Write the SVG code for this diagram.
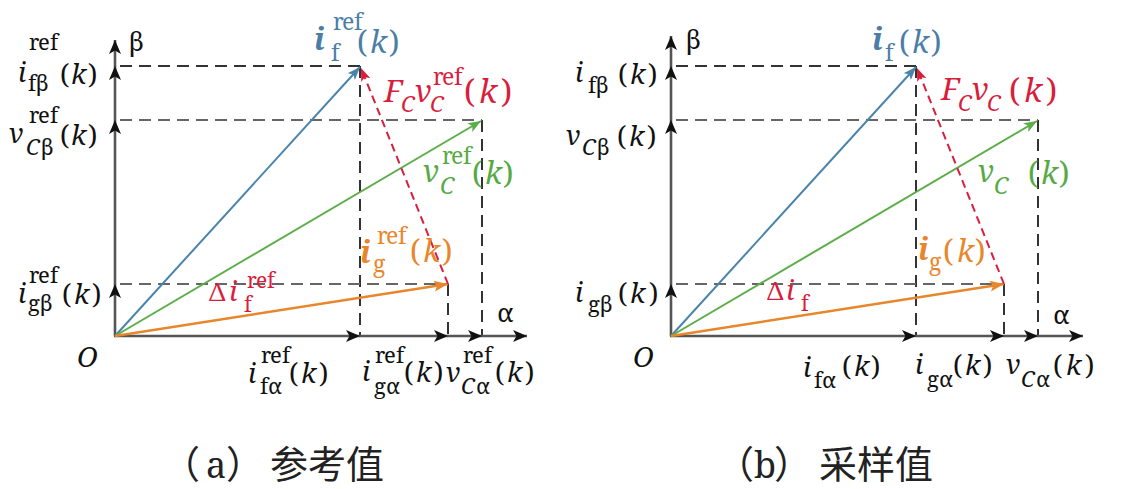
<svg xmlns="http://www.w3.org/2000/svg" width="1137" height="489" viewBox="0 0 1137 489">
<style>
.s{font-family:"Noto Serif","Noto Serif SC","Liberation Serif",serif;}
.i{font-style:italic;}
.bi{font-style:italic;font-weight:bold;}
.ax{stroke:#555;stroke-width:2.6;fill:none;}
.dk{stroke:#333;stroke-width:2;stroke-dasharray:12 7;fill:none;}
.dg{stroke:#666;stroke-width:2;stroke-dasharray:12 7;fill:none;}
.blue{stroke:#4a84ab;stroke-width:2;fill:none;}
.green{stroke:#5cae4a;stroke-width:2;fill:none;}
.orange{stroke:#e8862c;stroke-width:2.4;fill:none;}
.red{stroke:#d81e3c;stroke-width:2;stroke-dasharray:8 5;fill:none;}
.k{fill:#111;}
.cb{fill:#4a7ea6;}
.cg{fill:#55aa44;}
.co{fill:#e8862c;}
.cr{fill:#d81e3c;}
.cap{font-family:"Noto Sans CJK SC","Noto Sans CJK JP",sans-serif;font-size:38px;fill:#222;}
</style>
<defs>
<marker id="ak" viewBox="0 0 14 12" refX="14" refY="6" markerWidth="14" markerHeight="12" orient="auto" markerUnits="userSpaceOnUse"><path d="M0,0 L14,6 L0,12 L3.5,6 Z" fill="#111"/></marker>
<marker id="ab" viewBox="0 0 13 10" refX="13" refY="5" markerWidth="13" markerHeight="10" orient="auto" markerUnits="userSpaceOnUse"><path d="M0,0 L13,5 L0,10 L3,5 Z" fill="#4a84ab"/></marker>
<marker id="ag" viewBox="0 0 13 10" refX="13" refY="5" markerWidth="13" markerHeight="10" orient="auto" markerUnits="userSpaceOnUse"><path d="M0,0 L13,5 L0,10 L3,5 Z" fill="#5cae4a"/></marker>
<marker id="ao" viewBox="0 0 14 11" refX="14" refY="5.5" markerWidth="14" markerHeight="11" orient="auto" markerUnits="userSpaceOnUse"><path d="M0,0 L14,5.5 L0,11 L3,5.5 Z" fill="#e8862c"/></marker>
<marker id="ar" viewBox="0 0 13 10" refX="13" refY="5" markerWidth="13" markerHeight="10" orient="auto" markerUnits="userSpaceOnUse"><path d="M0,0 L13,5 L0,10 L3,5 Z" fill="#d81e3c"/></marker>
</defs>
<rect width="1137" height="489" fill="#fff"/>

<g id="connectors-a">
  <path class="dk" d="M120,66 H360 M360,66 V336 M448,284 V336 M482,120 V336"/>
  <path class="dg" d="M120,120 H482 M120,284 H448"/>
  <line class="ax" x1="115" y1="336" x2="115" y2="284" marker-end="url(#ak)"/>
  <line class="ax" x1="115" y1="284" x2="115" y2="120" marker-end="url(#ak)"/>
  <line class="ax" x1="115" y1="120" x2="115" y2="66" marker-end="url(#ak)"/>
  <line class="ax" x1="115" y1="66" x2="115" y2="40" marker-end="url(#ak)"/>
  <line class="ax" x1="114" y1="336" x2="360" y2="336" marker-end="url(#ak)"/>
  <line class="ax" x1="360" y1="336" x2="448" y2="336" marker-end="url(#ak)"/>
  <line class="ax" x1="448" y1="336" x2="482" y2="336" marker-end="url(#ak)"/>
  <line class="ax" x1="482" y1="336" x2="527" y2="336" marker-end="url(#ak)"/>
  <line class="blue" x1="115" y1="336" x2="360" y2="67" marker-end="url(#ab)"/>
  <line class="green" x1="115" y1="336" x2="481" y2="121" marker-end="url(#ag)"/>
  <line class="orange" x1="115" y1="336" x2="448" y2="284" marker-end="url(#ao)"/>
  <line class="red" x1="448" y1="284" x2="361" y2="68" marker-end="url(#ar)"/>
</g>

<g id="connectors-b" transform="translate(556,0)">
  <path class="dk" d="M120,66 H360 M360,66 V336 M448,284 V336 M482,120 V336"/>
  <path class="dg" d="M120,120 H482 M120,284 H448"/>
  <line class="ax" x1="115" y1="336" x2="115" y2="284" marker-end="url(#ak)"/>
  <line class="ax" x1="115" y1="284" x2="115" y2="120" marker-end="url(#ak)"/>
  <line class="ax" x1="115" y1="120" x2="115" y2="66" marker-end="url(#ak)"/>
  <line class="ax" x1="115" y1="66" x2="115" y2="36" marker-end="url(#ak)"/>
  <line class="ax" x1="114" y1="336" x2="360" y2="336" marker-end="url(#ak)"/>
  <line class="ax" x1="360" y1="336" x2="448" y2="336" marker-end="url(#ak)"/>
  <line class="ax" x1="448" y1="336" x2="482" y2="336" marker-end="url(#ak)"/>
  <line class="ax" x1="482" y1="336" x2="527" y2="336" marker-end="url(#ak)"/>
  <line class="blue" x1="115" y1="336" x2="360" y2="67" marker-end="url(#ab)"/>
  <line class="green" x1="115" y1="336" x2="481" y2="121" marker-end="url(#ag)"/>
  <line class="orange" x1="115" y1="336" x2="448" y2="284" marker-end="url(#ao)"/>
  <line class="red" x1="448" y1="284" x2="361" y2="68" marker-end="url(#ar)"/>
</g>

<g id="a-beta"><text class="s k" font-size="26" x="129" y="51">β</text></g>
<g id="a-alpha"><text class="s k" font-size="26" x="497" y="322">α</text></g>
<g id="a-origin"><text class="s i k" font-size="28" x="77" y="367">O</text></g>

<g id="a-ifb"><text class="s k">
<tspan class="i" font-size="27" x="18" y="82">i</tspan>
<tspan font-size="22" x="29 38 50" y="50">ref</tspan>
<tspan font-size="22" x="28 36" y="91">fβ</tspan>
<tspan font-size="27" x="60" y="84">(</tspan><tspan class="i" font-size="27" x="71" y="84">k</tspan><tspan font-size="27" x="88" y="84">)</tspan>
</text></g>

<g id="a-vcb"><text class="s k">
<tspan class="i" font-size="27" x="9" y="143">v</tspan>
<tspan font-size="22" x="29 38 50" y="123">ref</tspan>
<tspan class="i" font-size="22" x="26" y="155">C</tspan><tspan font-size="22" x="41" y="155">β</tspan>
<tspan font-size="27" x="60" y="145">(</tspan><tspan class="i" font-size="27" x="71" y="145">k</tspan><tspan font-size="27" x="88" y="145">)</tspan>
</text></g>

<g id="a-igb"><text class="s k">
<tspan class="i" font-size="27" x="18" y="303">i</tspan>
<tspan font-size="22" x="29 38 50" y="283">ref</tspan>
<tspan font-size="22" x="28 40" y="311">gβ</tspan>
<tspan font-size="27" x="62" y="304">(</tspan><tspan class="i" font-size="27" x="74" y="304">k</tspan><tspan font-size="27" x="92" y="304">)</tspan>
</text></g>

<g id="a-ifa"><text class="s k">
<tspan class="i" font-size="27" x="248" y="383">i</tspan>
<tspan font-size="22" x="261 270 282" y="363">ref</tspan>
<tspan font-size="22" x="260 268" y="394">fα</tspan>
<tspan font-size="27" x="289" y="383">(</tspan><tspan class="i" font-size="27" x="301" y="383">k</tspan><tspan font-size="27" x="319" y="383">)</tspan>
</text></g>

<g id="a-iga"><text class="s k">
<tspan class="i" font-size="27" x="362" y="381">i</tspan>
<tspan font-size="22" x="375 384 396" y="363">ref</tspan>
<tspan font-size="22" x="374 386" y="394">gα</tspan>
<tspan font-size="27" x="404" y="382">(</tspan><tspan class="i" font-size="27" x="416" y="382">k</tspan><tspan font-size="27" x="434" y="382">)</tspan>
</text></g>

<g id="a-vca"><text class="s k">
<tspan class="i" font-size="27" x="446" y="382">v</tspan>
<tspan font-size="22" x="463 472 484" y="363">ref</tspan>
<tspan class="i" font-size="22" x="461" y="394">C</tspan><tspan font-size="22" x="476" y="394">α</tspan>
<tspan font-size="27" x="495" y="382">(</tspan><tspan class="i" font-size="27" x="507" y="382">k</tspan><tspan font-size="27" x="525" y="382">)</tspan>
</text></g>

<g id="a-if-vec"><text class="s cb">
<tspan class="bi" font-size="30" x="314" y="50">i</tspan>
<tspan font-size="23" x="333 342 354" y="30">ref</tspan>
<tspan font-size="23" x="331" y="61">f</tspan>
<tspan font-size="30" x="357" y="53">(</tspan><tspan class="i" font-size="30" x="370" y="53">k</tspan><tspan font-size="30" x="389" y="53">)</tspan>
</text></g>

<g id="a-fcvc"><text class="s cr">
<tspan class="i" font-size="31" x="384" y="102">F</tspan>
<tspan class="i" font-size="22" x="401" y="112">C</tspan>
<tspan class="i" font-size="31" x="415" y="102">v</tspan>
<tspan font-size="23" x="433 442 454" y="85">ref</tspan>
<tspan class="i" font-size="22" x="430" y="112">C</tspan>
<tspan font-size="32" x="464" y="103">(</tspan><tspan class="i" font-size="32" x="479" y="103">k</tspan><tspan font-size="32" x="501" y="103">)</tspan>
</text></g>

<g id="a-vc-vec"><text class="s cg">
<tspan class="i" font-size="30" x="423" y="182">v</tspan>
<tspan font-size="23" x="442 451 463" y="164">ref</tspan>
<tspan class="i" font-size="23" x="440" y="194">C</tspan>
<tspan font-size="30" x="472" y="184">(</tspan><tspan class="i" font-size="30" x="485" y="184">k</tspan><tspan font-size="30" x="503" y="184">)</tspan>
</text></g>

<g id="a-ig-vec"><text class="s co">
<tspan class="bi" font-size="30" x="360" y="263">i</tspan>
<tspan font-size="23" x="377 386 398" y="244">ref</tspan>
<tspan font-size="23" x="373" y="272">g</tspan>
<tspan font-size="30" x="410" y="262">(</tspan><tspan class="i" font-size="30" x="423" y="262">k</tspan><tspan font-size="30" x="442" y="262">)</tspan>
</text></g>

<g id="a-dif"><text class="s cr">
<tspan font-size="26" x="209" y="301">Δ</tspan>
<tspan class="i" font-size="28" x="229" y="301">i</tspan>
<tspan font-size="21" x="247 256 267" y="288">ref</tspan>
<tspan font-size="21" x="244" y="312">f</tspan>
</text></g>

<g id="b-beta"><text class="s k" font-size="26" x="686" y="49">β</text></g>
<g id="b-alpha"><text class="s k" font-size="26" x="1053" y="324">α</text></g>
<g id="b-origin"><text class="s i k" font-size="28" x="633" y="367">O</text></g>

<g id="b-ifb"><text class="s k">
<tspan class="i" font-size="27" x="575" y="82">i</tspan>
<tspan font-size="22" x="588 596" y="93">fβ</tspan>
<tspan font-size="27" x="618" y="84">(</tspan><tspan class="i" font-size="27" x="630" y="84">k</tspan><tspan font-size="27" x="648" y="84">)</tspan>
</text></g>

<g id="b-vcb"><text class="s k">
<tspan class="i" font-size="27" x="566" y="145">v</tspan>
<tspan class="i" font-size="22" x="582" y="155">C</tspan><tspan font-size="22" x="597" y="155">β</tspan>
<tspan font-size="27" x="617" y="146">(</tspan><tspan class="i" font-size="27" x="629" y="146">k</tspan><tspan font-size="27" x="647" y="146">)</tspan>
</text></g>

<g id="b-igb"><text class="s k">
<tspan class="i" font-size="27" x="575" y="302">i</tspan>
<tspan font-size="22" x="588 600" y="312">gβ</tspan>
<tspan font-size="27" x="618" y="303">(</tspan><tspan class="i" font-size="27" x="630" y="303">k</tspan><tspan font-size="27" x="649" y="303">)</tspan>
</text></g>

<g id="b-ifa"><text class="s k">
<tspan class="i" font-size="27" x="803" y="377">i</tspan>
<tspan font-size="22" x="814 822" y="388">fα</tspan>
<tspan font-size="27" x="842" y="376">(</tspan><tspan class="i" font-size="27" x="854" y="376">k</tspan><tspan font-size="27" x="871" y="376">)</tspan>
</text></g>

<g id="b-iga"><text class="s k">
<tspan class="i" font-size="27" x="915" y="374">i</tspan>
<tspan font-size="22" x="927 939" y="387">gα</tspan>
<tspan font-size="27" x="953" y="375">(</tspan><tspan class="i" font-size="27" x="965" y="375">k</tspan><tspan font-size="27" x="983" y="375">)</tspan>
</text></g>

<g id="b-vca"><text class="s k">
<tspan class="i" font-size="27" x="1006" y="374">v</tspan>
<tspan class="i" font-size="22" x="1021" y="387">C</tspan><tspan font-size="22" x="1036" y="387">α</tspan>
<tspan font-size="27" x="1053" y="375">(</tspan><tspan class="i" font-size="27" x="1066" y="375">k</tspan><tspan font-size="27" x="1085" y="375">)</tspan>
</text></g>

<g id="b-if-vec"><text class="s cb">
<tspan class="bi" font-size="30" x="872" y="50">i</tspan>
<tspan font-size="23" x="885" y="61">f</tspan>
<tspan font-size="30" x="899" y="53">(</tspan><tspan class="i" font-size="30" x="912" y="53">k</tspan><tspan font-size="30" x="931" y="53">)</tspan>
</text></g>

<g id="b-fcvc"><text class="s cr">
<tspan class="i" font-size="31" x="941" y="100">F</tspan>
<tspan class="i" font-size="22" x="958" y="111">C</tspan>
<tspan class="i" font-size="31" x="972" y="100">v</tspan>
<tspan class="i" font-size="22" x="987" y="111">C</tspan>
<tspan font-size="32" x="1009" y="102">(</tspan><tspan class="i" font-size="32" x="1024" y="102">k</tspan><tspan font-size="32" x="1046" y="102">)</tspan>
</text></g>

<g id="b-vc-vec"><text class="s cg">
<tspan class="i" font-size="30" x="978" y="182">v</tspan>
<tspan class="i" font-size="23" x="994" y="194">C</tspan>
<tspan font-size="30" x="1028" y="184">(</tspan><tspan class="i" font-size="30" x="1041" y="184">k</tspan><tspan font-size="30" x="1059" y="184">)</tspan>
</text></g>

<g id="b-ig-vec"><text class="s co">
<tspan class="bi" font-size="30" x="918" y="260">i</tspan>
<tspan font-size="23" x="929" y="270">g</tspan>
<tspan font-size="30" x="943" y="262">(</tspan><tspan class="i" font-size="30" x="957" y="262">k</tspan><tspan font-size="30" x="975" y="262">)</tspan>
</text></g>

<g id="b-dif"><text class="s cr">
<tspan font-size="26" x="767" y="300">Δ</tspan>
<tspan class="i" font-size="28" x="786" y="300">i</tspan>
<tspan font-size="21" x="801" y="311">f</tspan>
</text></g>

<g id="caption-a"><text class="cap" y="478">
<tspan x="162">（</tspan><tspan class="s" font-size="36" x="206">a</tspan><tspan x="226">）</tspan><tspan x="270">参考值</tspan>
</text></g>
<g id="caption-b"><text class="cap" y="478">
<tspan x="716">（</tspan><tspan class="s" font-size="36" x="754">b</tspan><tspan x="774">）</tspan><tspan x="819">采样值</tspan>
</text></g>
</svg>
